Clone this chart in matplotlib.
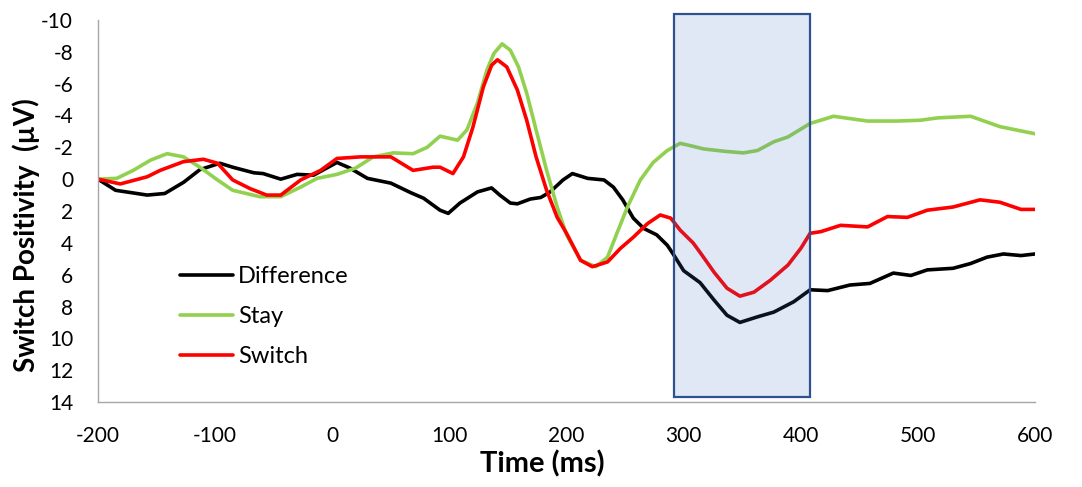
import matplotlib
matplotlib.use("Agg")
import matplotlib.pyplot as plt
from matplotlib.patches import Rectangle

# ---- data ----
diff_t = [-200,-185,-158,-143,-127,-113,-96,-85,-67,-59,-44,-30,-16,4,15,30,50,67,78,92,99,109,124,136,143,152,158,169,178,186,197,205,218,232,240,248,257,266,277,286,291,300,314,326,337,348,363,377,394,408,423,442,459,479,494,508,530,545,559,573,588,600]
diff_v = [0,0.7,1.0,0.9,0.2,-0.6,-1.0,-0.75,-0.4,-0.35,0,-0.3,-0.25,-1.05,-0.7,-0.05,0.25,0.85,1.2,1.95,2.15,1.5,0.8,0.55,1.0,1.5,1.55,1.25,1.15,0.8,0.05,-0.35,-0.05,0.05,0.5,1.3,2.45,3.1,3.5,4.15,4.7,5.75,6.5,7.6,8.55,9.0,8.65,8.35,7.7,6.95,7.0,6.65,6.55,5.9,6.05,5.7,5.6,5.3,4.9,4.7,4.8,4.7]

stay_t = [-200,-184,-170,-155,-141,-127,-113,-98,-85,-62,-44,-27,-13,4,20,35,52,69,81,92,107,115,124,132,138,145,152,159,166,174,183,192,200,212,225,235,243,252,263,274,286,297,306,317,335,351,363,377,389,408,428,457,482,502,517,545,570,600]
stay_v = [0,-0.05,-0.55,-1.2,-1.6,-1.4,-0.75,0.05,0.7,1.1,1.1,0.5,-0.05,-0.3,-0.7,-1.4,-1.65,-1.6,-2.0,-2.7,-2.45,-3.1,-4.8,-6.85,-7.9,-8.5,-8.1,-7.05,-5.4,-3.1,-0.55,1.75,3.5,5.1,5.5,4.9,3.4,1.75,0.05,-1.05,-1.8,-2.25,-2.1,-1.9,-1.75,-1.65,-1.8,-2.35,-2.65,-3.5,-3.95,-3.65,-3.65,-3.7,-3.85,-3.95,-3.3,-2.85]

switch_t = [-200,-181,-158,-147,-127,-110,-98,-85,-70,-56,-44,-27,-10,4,24,50,69,86,92,103,112,120,129,136,141,149,158,166,174,183,192,200,212,222,235,246,257,269,280,289,297,308,314,326,337,348,360,374,389,400,408,417,434,457,474,491,508,530,553,570,588,600]
switch_v = [0,0.3,-0.15,-0.55,-1.1,-1.25,-1.0,0.05,0.6,1.0,1.0,0.05,-0.55,-1.3,-1.4,-1.4,-0.55,-0.75,-0.75,-0.35,-1.4,-3.25,-5.8,-7.15,-7.5,-7.05,-5.6,-3.7,-1.4,0.7,2.4,3.4,5.1,5.5,5.2,4.35,3.65,2.8,2.25,2.45,3.2,4.0,4.6,5.85,6.85,7.35,7.1,6.35,5.4,4.35,3.4,3.3,2.9,3.0,2.35,2.4,1.95,1.75,1.3,1.45,1.9,1.9]

window = [292, 408]
x_ticks = [-200, -100, 0, 100, 200, 300, 400, 500, 600]
y_ticks = [-10, -8, -6, -4, -2, 0, 2, 4, 6, 8, 10, 12, 14]

plt.rcParams['font.family'] = ['Lato', 'DejaVu Sans']
plt.rcParams['axes.unicode_minus'] = False

fig = plt.figure(figsize=(10.82, 4.87), dpi=100)
ax = fig.add_axes([0.0906, 0.1745, 0.866, 0.7845])

kw = dict(lw=2.6, solid_capstyle='round', solid_joinstyle='round')
ax.plot(diff_t, diff_v, color='black', label='Difference', **kw)
ax.plot(stay_t, stay_v, color='#92D050', label='Stay', **kw)
ax.plot(switch_t, switch_v, color='#FF0000', label='Switch', **kw)

rect_fill = Rectangle((window[0], -10.4), window[1] - window[0], 24.1,
                      facecolor='#4472C4', alpha=0.16, edgecolor='none',
                      clip_on=False, zorder=5)
rect_edge = Rectangle((window[0], -10.4), window[1] - window[0], 24.1,
                      facecolor='none', edgecolor='#2F528F', lw=1.6,
                      clip_on=False, zorder=6)
ax.add_patch(rect_fill)
ax.add_patch(rect_edge)

ax.set_xlim(-200, 600)
ax.set_ylim(14, -10)
ax.set_xticks(x_ticks)
ax.set_yticks(y_ticks)
ax.tick_params(axis='both', length=0, labelsize=15, colors='black')
ax.tick_params(axis='x', pad=17)
ax.tick_params(axis='y', pad=18)

for s in ['top', 'right']:
    ax.spines[s].set_visible(False)
for s in ['left', 'bottom']:
    ax.spines[s].set_color('#A6A6A6')
    ax.spines[s].set_linewidth(1.0)

ax.set_xlabel('Time (ms)', fontsize=21, fontweight='bold')
ax.xaxis.set_label_coords(0.474, -0.126)
ax.set_ylabel('Switch Positivity  (µV)', fontsize=20, fontweight='bold')
ax.yaxis.set_label_coords(-0.062, 0.437)

leg = ax.legend(loc='upper left', bbox_to_anchor=(0.0875, 0.356), frameon=False,
                fontsize=17, handlelength=2.25, handletextpad=0.2,
                labelspacing=0.8, borderpad=0, borderaxespad=0)

fig.savefig('out.png', dpi=100)
